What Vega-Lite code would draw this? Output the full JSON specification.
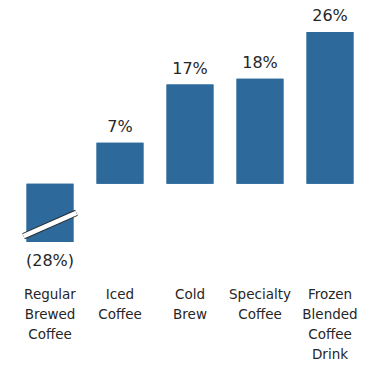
{
  "$schema": "https://vega.github.io/schema/vega-lite/v6.json",
  "autosize": {"type": "none"},
  "width": 350,
  "height": 210,
  "padding": {"left": 15, "top": 32, "right": 0, "bottom": 127},
  "background": "white",
  "config": {
    "view": {"stroke": null},
    "font": "DejaVu Sans"
  },
  "datasets": {
    "growth": [
      {"drink": "Regular Brewed Coffee", "change": -28, "label": "(28%)"},
      {"drink": "Iced Coffee", "change": 7, "label": "7%"},
      {"drink": "Cold Brew", "change": 17, "label": "17%"},
      {"drink": "Specialty Coffee", "change": 18, "label": "18%"},
      {"drink": "Frozen Blended Coffee Drink", "change": 26, "label": "26%"}
    ],
    "breakMark": [
      {"drink": "Regular Brewed Coffee", "from": -9.0, "to": -5.0}
    ]
  },
  "layer": [
    {
      "data": {"name": "growth"},
      "mark": {"type": "bar", "color": "#2d6a9b"},
      "encoding": {
        "x": {
          "field": "drink",
          "type": "nominal",
          "sort": null,
          "scale": {"paddingInner": 0.33, "paddingOuter": 0.165},
          "axis": {
            "title": null,
            "domain": false,
            "ticks": false,
            "labelAngle": 0,
            "labelExpr": "split(datum.label, ' ')",
            "labelFont": "DejaVu Sans",
            "labelFontSize": 13.5,
            "labelColor": "#262626",
            "labelLineHeight": 20,
            "labelBaseline": "top",
            "labelPadding": 45
          }
        },
        "y": {
          "field": "change",
          "type": "quantitative",
          "scale": {"domain": [-10, 26], "nice": false, "zero": true, "clamp": true},
          "axis": null
        }
      }
    },
    {
      "mark": {"type": "rule", "color": "#d6d6d6", "strokeWidth": 1.2},
      "encoding": {
        "y": {"datum": 0, "type": "quantitative"}
      }
    },
    {
      "data": {"name": "growth"},
      "mark": {"type": "bar", "color": "#2d6a9b"},
      "encoding": {
        "x": {"field": "drink", "type": "nominal", "sort": null},
        "y": {"field": "change", "type": "quantitative"}
      }
    },
    {
      "data": {"name": "breakMark"},
      "mark": {"type": "rule", "color": "#2a2a2a", "strokeWidth": 6.5},
      "encoding": {
        "x": {"field": "drink", "type": "nominal", "sort": null, "bandPosition": -0.064},
        "x2": {"field": "drink", "bandPosition": 1.064},
        "y": {"field": "from", "type": "quantitative"},
        "y2": {"field": "to"}
      }
    },
    {
      "data": {"name": "breakMark"},
      "mark": {"type": "rule", "color": "white", "strokeWidth": 4.5},
      "encoding": {
        "x": {"field": "drink", "type": "nominal", "sort": null, "bandPosition": -0.064},
        "x2": {"field": "drink", "bandPosition": 1.064},
        "y": {"field": "from", "type": "quantitative"},
        "y2": {"field": "to"}
      }
    },
    {
      "data": {"name": "growth"},
      "transform": [{"filter": "datum.change >= 0"}],
      "mark": {"type": "text", "baseline": "alphabetic", "dy": -11, "fontSize": 16, "color": "#262626", "font": "DejaVu Sans"},
      "encoding": {
        "x": {"field": "drink", "type": "nominal", "sort": null},
        "y": {"field": "change", "type": "quantitative"},
        "text": {"field": "label"}
      }
    },
    {
      "data": {"name": "growth"},
      "transform": [{"filter": "datum.change < 0"}],
      "mark": {"type": "text", "baseline": "top", "dy": 11, "fontSize": 16, "color": "#262626", "font": "DejaVu Sans"},
      "encoding": {
        "x": {"field": "drink", "type": "nominal", "sort": null},
        "y": {"field": "change", "type": "quantitative"},
        "text": {"field": "label"}
      }
    }
  ]
}
